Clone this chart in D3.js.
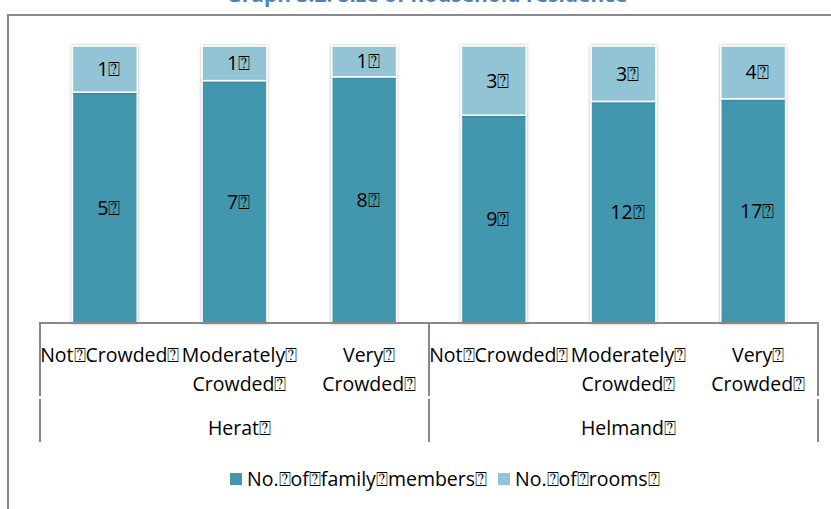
<!DOCTYPE html>
<html>
<head>
<meta charset="utf-8">
<script src="https://cdn.jsdelivr.net/npm/d3@7"></script>
<style>
html,body{margin:0;padding:0;background:#fff;}
svg{display:block;}
text{font-family:"Open Sans",sans-serif;fill:#000;}
</style>
</head>
<body>
<svg id="chart" width="831" height="509"></svg>
<script>
const B = "\u2370";
const title = "Graph 3.2: Size of household residence";
const groups = ["Herat", "Helmand"];
const categories = ["Not Crowded", "Moderately Crowded", "Very Crowded"];
const categoryLines = [["Not" + B + "Crowded" + B], ["Moderately" + B, "Crowded" + B], ["Very" + B, "Crowded" + B]];
const seriesNames = ["No. of family members", "No. of rooms"];
const legendLabels = ["No." + B + "of" + B + "family" + B + "members" + B, "No." + B + "of" + B + "rooms" + B];
const familyMembers = [5, 7, 8, 9, 12, 17];
const rooms = [1, 1, 1, 3, 3, 4];
const colors = ["#4397ae", "#93c4d6"];

const svg = d3.select("#chart");
const W = 831, H = 509;
const FS = "19.5px";

const defs = svg.append("defs");
const f = defs.append("filter").attr("id", "sh").attr("x", "-20%").attr("y", "-5%").attr("width", "140%").attr("height", "110%");
f.append("feDropShadow").attr("dx", 0).attr("dy", 0).attr("stdDeviation", 1.8)
  .attr("flood-color", "#000").attr("flood-opacity", 0.32);

// title (partially clipped at top, as in reference)
svg.append("text").attr("x", 427).attr("y", 2).attr("text-anchor", "middle")
  .style("font-size", "21px").style("font-weight", "bold").style("fill", "#4f81bd")
  .text(title);

// outer chart frame
svg.append("path").attr("d", `M8,${H + 2}V15H${W + 2}`).attr("fill", "none")
  .attr("stroke", "#888").attr("stroke-width", 2);

const keys = [];
groups.forEach(g => categories.forEach(c => keys.push(g + "|" + c)));
const rows = keys.map((k, i) => ({key: k, fam: familyMembers[i], rooms: rooms[i]}));

const x = d3.scaleBand().domain(keys).range([40, 818]).paddingInner(0.5).paddingOuter(0.25);
const y = d3.scaleLinear().domain([0, 1]).range([323, 46]);

const stack = d3.stack().keys(["fam", "rooms"]).offset(d3.stackOffsetExpand);
const stacked = stack(rows);

const gBars = svg.append("g");
stacked.forEach((layer, li) => {
  gBars.selectAll(null).data(layer).enter().append("rect")
    .attr("x", d => x(d.data.key))
    .attr("width", x.bandwidth())
    .attr("y", d => y(d[1]))
    .attr("height", d => y(d[0]) - y(d[1]))
    .attr("fill", colors[li])
    .attr("stroke", "#fff").attr("stroke-width", 1.5)
    .attr("filter", "url(#sh)");
});
stacked.forEach((layer, li) => {
  gBars.selectAll(null).data(layer).enter().append("text")
    .attr("x", d => x(d.data.key) + x.bandwidth() / 2 + 4)
    .attr("y", d => (y(d[0]) + y(d[1])) / 2 + 7)
    .attr("text-anchor", "middle")
    .style("font-size", FS)
    .text(d => (li === 0 ? d.data.fam : d.data.rooms) + B);
});

// axis
const axis = svg.append("g").attr("stroke", "#888").attr("stroke-width", 2);
axis.append("line").attr("x1", 40).attr("x2", 818).attr("y1", 323).attr("y2", 323);
const step = x.step();
const dividers = [x.range()[0], x.range()[0] + step * 3, x.range()[1]];
dividers.forEach(xx => {
  axis.append("line").attr("x1", xx).attr("x2", xx).attr("y1", 322).attr("y2", 396);
  axis.append("line").attr("x1", xx).attr("x2", xx).attr("y1", 399).attr("y2", 442);
});

// category labels
keys.forEach((k, i) => {
  const lines = categoryLines[i % 3];
  const cx = x(k) + x.bandwidth() / 2 + 5;
  const t = svg.append("text").attr("text-anchor", "middle").style("font-size", FS);
  lines.forEach((ln, j) => {
    t.append("tspan").attr("x", cx).attr("y", 362 + j * 29).text(ln);
  });
});
groups.forEach((g, gi) => {
  const cx = (dividers[gi] + dividers[gi + 1]) / 2 + 5;
  svg.append("text").attr("x", cx).attr("y", 435).attr("text-anchor", "middle")
    .style("font-size", FS).text(g + B);
});

// legend
const legX = [230, 498];
legendLabels.forEach((lab, i) => {
  svg.append("rect").attr("x", legX[i]).attr("y", 473).attr("width", 12).attr("height", 12).attr("fill", colors[i]);
  svg.append("text").attr("x", legX[i] + 17).attr("y", 486).style("font-size", FS).text(lab);
});
</script>
</body>
</html>
